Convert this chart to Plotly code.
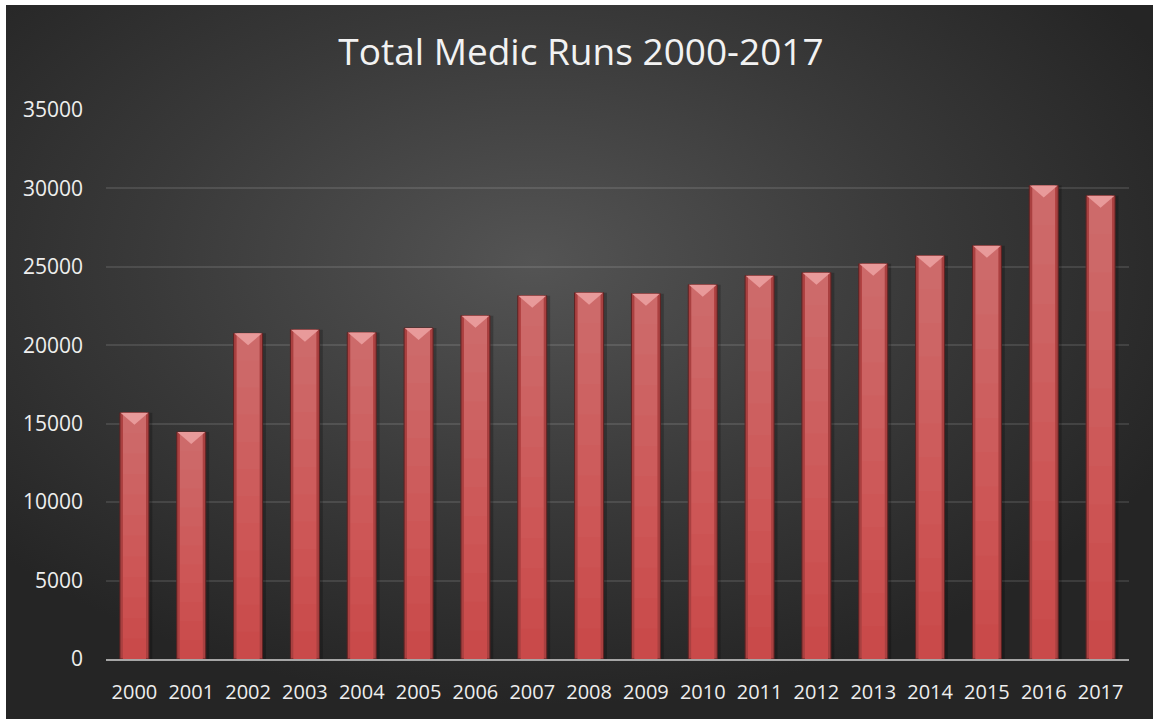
import base64
import plotly.graph_objects as go

# Annual medic run totals
years = list(range(2000, 2018))
runs = [15700, 14470, 20760, 20990, 20820, 21100, 21890, 23160, 23350,
        23290, 23860, 24440, 24630, 25200, 25710, 26350, 30180, 29540]
y_ticks = [0, 5000, 10000, 15000, 20000, 25000, 30000, 35000]

W, H = 1153, 719
L, R, T, B = 106, 24, 110, 60
plot_w = W - L - R
plot_h = H - T - B

BAR_W = 0.51
px_per_unit = plot_h / 35000.0

# Dark radial-gradient backdrop as an inline SVG
svg = f"""<svg xmlns='http://www.w3.org/2000/svg' width='1147' height='714' viewBox='0 0 1147 714' preserveAspectRatio='none'>
<defs><radialGradient id='g' cx='0.46' cy='0.36' r='0.62' gradientUnits='objectBoundingBox'>
<stop offset='0' stop-color='#545454'/><stop offset='0.55' stop-color='#393939'/>
<stop offset='1' stop-color='#252525'/></radialGradient></defs>
<rect width='1147' height='714' fill='url(#g)'/></svg>"""
bg_src = "data:image/svg+xml;base64," + base64.b64encode(svg.encode()).decode()

fig = go.Figure()

# soft shadow to the right of each bar
fig.add_trace(go.Bar(x=[y + 0.06 for y in years], y=runs, width=BAR_W,
                     marker=dict(color="rgba(0,0,0,0.22)", line=dict(width=0)),
                     hoverinfo="skip", showlegend=False))
# bar body with darker bevel edges
fig.add_trace(go.Bar(x=years, y=runs, width=BAR_W,
                     marker=dict(color="#a94040", line=dict(color="#5e2222", width=1)),
                     showlegend=False))
fig.add_trace(go.Bar(x=years, y=runs, width=BAR_W * 0.8,
                     marker=dict(color="#c94a4a", line=dict(width=0)),
                     hoverinfo="skip", showlegend=False))
# gentle lightening toward the top
steps = 12
for k in range(1, steps):
    f = k / steps
    fig.add_trace(go.Bar(x=years, y=[v * (1 - f) for v in runs],
                         base=[v * f for v in runs], width=BAR_W * 0.8,
                         marker=dict(color="rgba(255,235,235,0.02)", line=dict(width=0)),
                         hoverinfo="skip", showlegend=False))

# bevelled top cap on each bar
cap_h = 12 / px_per_unit
hw = BAR_W / 2 - 0.01
for yr, v in zip(years, runs):
    fig.add_trace(go.Scatter(
        x=[yr - hw, yr + hw, yr, yr - hw], y=[v, v, v - cap_h, v],
        mode="lines", fill="toself", fillcolor="#e89a9a",
        line=dict(width=0), hoverinfo="skip", showlegend=False))

fig.update_layout(
    width=W, height=H,
    margin=dict(l=L, r=R, t=T, b=B),
    paper_bgcolor="white",
    plot_bgcolor="rgba(0,0,0,0)",
    barmode="overlay",
    title=dict(text="Total Medic Runs 2000-2017", x=581 / W, xanchor="center",
               y=1 - 52 / H, yanchor="middle",
               font=dict(family="Open Sans", size=37, color="#f2f2f2")),
    font=dict(family="Open Sans", color="#eeeeee"),
    xaxis=dict(range=[1999.5, 2017.5], tickmode="array", tickvals=years,
               ticktext=[str(y) for y in years], showgrid=False, zeroline=False,
               showline=True, linecolor="#a6a6a6", linewidth=2,
               ticks="", tickfont=dict(size=20, color="#eeeeee"),
               ticklabelstandoff=14),
    yaxis=dict(range=[0, 35000], tickmode="array", tickvals=y_ticks,
               ticktext=[str(t) for t in y_ticks], showgrid=True,
               gridcolor="rgba(255,255,255,0.11)", gridwidth=1.5,
               zeroline=False, showline=False, ticks="",
               tickfont=dict(size=21, color="#eeeeee"), ticklabelstandoff=22),
    images=[dict(source=bg_src, xref="paper", yref="paper",
                 x=(6 - L) / plot_w, y=(H - B - 5) / plot_h,
                 sizex=(W - 6) / plot_w, sizey=(H - 5) / plot_h,
                 xanchor="left", yanchor="top", sizing="stretch", layer="below")],
)

fig.write_html("out.html")
